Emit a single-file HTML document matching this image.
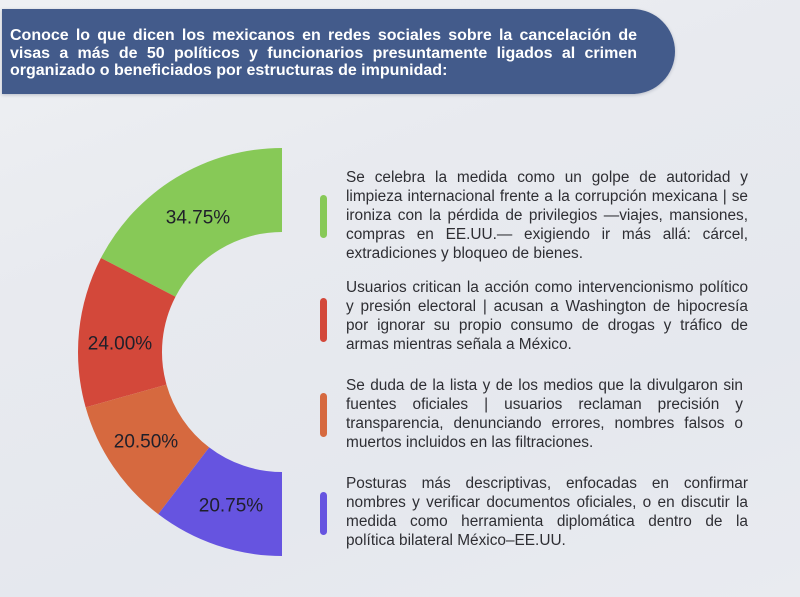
<!DOCTYPE html>
<html>
<head>
<meta charset="utf-8">
<style>
  html, body { margin:0; padding:0; }
  body {
    width:800px; height:597px; overflow:hidden; position:relative;
    background: linear-gradient(160deg, #eef0f3 0%, #e8eaef 35%, #e5e8ee 70%, #e9ebf0 100%);
    font-family: "Liberation Sans", sans-serif;
  }
  .banner {
    position:absolute; left:2px; top:9px; width:673px; height:85px;
    background:#435b8b; border-radius: 0 44px 44px 0;
    box-shadow: 0 1px 3px rgba(40,50,80,0.25);
  }
  .htext {
    position:absolute; left:10px; top:27px; width:627px;
    color:#fff; font-weight:bold; font-size:16px; line-height:17.5px;
  }
  .line { white-space:nowrap; text-align:justify; text-align-last:justify; height:17.5px; overflow:visible; }
  .line.last { text-align:left; text-align-last:left; }
  .para {
    position:absolute; left:346px; width:402px;
    color:#2e2e33; font-size:15.4px; line-height:19px;
  }
  .para .line { height:19px; }
  .bar { position:absolute; left:320px; width:7px; border-radius:4px; }
</style>
</head>
<body>
<div class="banner"></div>
<div class="htext">
  <div class="line">Conoce lo que dicen los mexicanos en redes sociales sobre la cancelación de</div>
  <div class="line">visas a más de 50 políticos y funcionarios presuntamente ligados al crimen</div>
  <div class="line last">organizado o beneficiados por estructuras de impunidad:</div>
</div>

<svg width="800" height="597" style="position:absolute;left:0;top:0" xmlns="http://www.w3.org/2000/svg">
  <path d="M282 148 A204 204 0 0 0 100.94 258.01 L175.49 296.71 A120 120 0 0 1 282 232 Z" fill="#87c957"/>
  <path d="M100.94 258.01 A204 204 0 0 0 85.66 407.37 L166.50 384.57 A120 120 0 0 1 175.49 296.71 Z" fill="#d3483a"/>
  <path d="M85.66 407.37 A204 204 0 0 0 158.24 514.17 L209.20 447.39 A120 120 0 0 1 166.50 384.57 Z" fill="#d6693f"/>
  <path d="M158.24 514.17 A204 204 0 0 0 282 556 L282 472 A120 120 0 0 1 209.20 447.39 Z" fill="#6654e0"/>
  <g font-family="Liberation Sans, sans-serif" font-size="19" fill="#1f1f2a" text-anchor="middle" dominant-baseline="central">
    <text x="198" y="218">34.75%</text>
    <text x="120" y="344">24.00%</text>
    <text x="146" y="442">20.50%</text>
    <text x="231" y="506">20.75%</text>
  </g>
</svg>

<div class="bar" style="top:195px;height:43px;background:#87c957"></div>
<div class="bar" style="top:298px;height:44px;background:#d3483a"></div>
<div class="bar" style="top:393px;height:44px;background:#d6693f"></div>
<div class="bar" style="top:492px;height:43px;background:#6654e0"></div>

<div class="para" style="top:168px">
  <div class="line">Se celebra la medida como un golpe de autoridad y</div>
  <div class="line">limpieza internacional frente a la corrupción mexicana | se</div>
  <div class="line">ironiza con la pérdida de privilegios —viajes, mansiones,</div>
  <div class="line">compras en EE.UU.— exigiendo ir más allá: cárcel,</div>
  <div class="line last">extradiciones y bloqueo de bienes.</div>
</div>

<div class="para" style="top:278px">
  <div class="line">Usuarios critican la acción como intervencionismo político</div>
  <div class="line">y presión electoral | acusan a Washington de hipocresía</div>
  <div class="line">por ignorar su propio consumo de drogas y tráfico de</div>
  <div class="line last">armas mientras señala a México.</div>
</div>

<div class="para" style="top:376px;width:397px">
  <div class="line">Se duda de la lista y de los medios que la divulgaron sin</div>
  <div class="line">fuentes oficiales | usuarios reclaman precisión y</div>
  <div class="line">transparencia, denunciando errores, nombres falsos o</div>
  <div class="line last">muertos incluidos en las filtraciones.</div>
</div>

<div class="para" style="top:474px">
  <div class="line">Posturas más descriptivas, enfocadas en confirmar</div>
  <div class="line">nombres y verificar documentos oficiales, o en discutir la</div>
  <div class="line">medida como herramienta diplomática dentro de la</div>
  <div class="line last">política bilateral México–EE.UU.</div>
</div>
</body>
</html>
